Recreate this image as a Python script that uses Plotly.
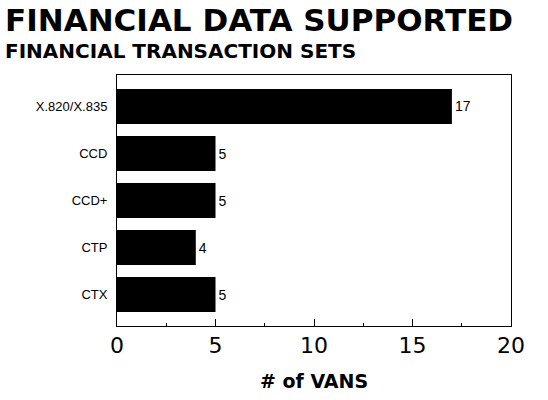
import plotly.graph_objects as go

categories = ["X.820/X.835", "CCD", "CCD+", "CTP", "CTX"]
vans = [17, 5, 5, 4, 5]
x_ticks = [0, 5, 10, 15, 20]

FONT = "Liberation Sans, Arial, Helvetica, sans-serif"
WIDE = "DejaVu Sans, Verdana, sans-serif"

fig = go.Figure()
fig.add_trace(go.Bar(
    y=categories,
    x=vans,
    orientation="h",
    marker=dict(color="black", line=dict(width=0)),
    text=[str(v) for v in vans],
    textposition="outside",
    outsidetextfont=dict(family=FONT, size=14, color="black"),
    cliponaxis=False,
    hoverinfo="skip",
))

L, R, T, B = 117, 37, 75, 74
W, H = 548, 400
pw, ph = W - L - R, H - T - B


def py(y_px):
    """pixel row (from top of page) -> paper y"""
    return (H - B - y_px) / ph


def px(x_px):
    return (x_px - L) / pw


fig.update_layout(
    width=W, height=H,
    margin=dict(l=L, r=R, t=T, b=B),
    paper_bgcolor="white",
    plot_bgcolor="white",
    showlegend=False,
    bargap=0.255,
    font=dict(family=FONT, color="black"),
    annotations=[
        dict(
            text="<b>FINANCIAL DATA SUPPORTED</b>",
            font=dict(family=WIDE, size=31, color="black"),
            xref="paper", x=px(4), xanchor="left",
            yref="paper", y=py(1), yanchor="top",
            showarrow=False, borderpad=0,
        ),
        dict(
            text="<b>FINANCIAL TRANSACTION SETS</b>",
            font=dict(family=WIDE, size=20, color="black"),
            xref="paper", x=px(4), xanchor="left",
            yref="paper", y=py(38), yanchor="top",
            showarrow=False, borderpad=0,
        ),
    ],
    xaxis=dict(
        range=[0, 20],
        tickvals=x_ticks,
        ticktext=[str(v) for v in x_ticks],
        ticks="inside", ticklen=7, tickwidth=1, tickcolor="black",
        minor=dict(dtick=2.5, tick0=0, ticks="inside", ticklen=3, tickwidth=1, tickcolor="black"),
        tickfont=dict(family=WIDE, size=22, color="black"),
        showgrid=False, zeroline=False,
        showline=True, linecolor="black", linewidth=1, mirror=True,
        title=dict(text="<b># of VANS</b>", font=dict(family=WIDE, size=19, color="black"), standoff=17),
    ),
    yaxis=dict(
        categoryorder="array", categoryarray=categories,
        range=[4.67, -0.67],
        ticks="", showgrid=False, zeroline=False,
        showline=True, linecolor="black", linewidth=1, mirror=True,
        tickfont=dict(family=FONT, size=13, color="black"),
        ticklabelstandoff=6,
    ),
)

fig.write_html(
    "out.html",
    config={"displayModeBar": False},
    post_script="document.body.style.margin='0';document.body.style.padding='0';",
)
